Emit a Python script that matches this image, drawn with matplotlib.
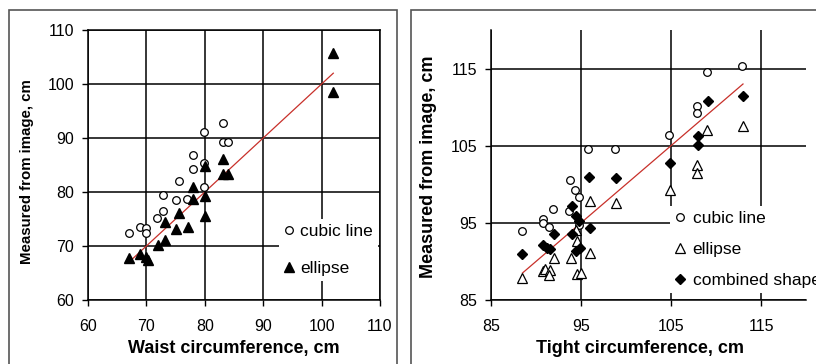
import matplotlib
matplotlib.use("Agg")
import matplotlib.pyplot as plt
from matplotlib.lines import Line2D
from matplotlib.patches import Rectangle

plt.rcParams['font.family'] = ['Liberation Sans', 'DejaVu Sans']

# ---- Left panel data (waist) ----
waist_cubic_x = [67.0, 68.9, 69.9, 69.9, 71.9, 72.9, 72.9, 75.0, 75.5, 76.9, 77.9, 77.9, 79.9, 79.9, 79.9, 83.1, 83.1, 84.0]
waist_cubic_y = [72.5, 73.6, 73.4, 72.5, 75.1, 76.4, 79.4, 78.5, 82.0, 78.7, 84.3, 86.9, 91.2, 85.4, 81.0, 92.8, 89.2, 89.2]
waist_ellipse_x = [67.1, 68.9, 69.9, 70.2, 72.0, 73.1, 73.1, 75.1, 75.6, 77.1, 77.9, 77.9, 80.0, 80.0, 80.0, 83.1, 83.1, 84.0, 102.0, 102.0]
waist_ellipse_y = [67.8, 68.5, 68.0, 67.5, 70.2, 71.2, 74.5, 73.1, 76.2, 73.6, 80.9, 78.7, 84.9, 79.3, 75.6, 86.2, 83.3, 83.3, 105.8, 98.6]
waist_fit = [67, 102]

# ---- Right panel data (tight) ----
tight_cubic_x = [88.4, 90.8, 90.8, 91.4, 91.9, 93.8, 94.3, 94.8, 93.7, 94.8, 95.8, 98.8, 104.8, 107.9, 107.9, 109.0, 112.9]
tight_cubic_y = [94.0, 95.5, 95.0, 94.5, 96.8, 100.6, 99.3, 98.3, 96.6, 94.7, 104.6, 104.6, 106.4, 110.1, 109.2, 114.6, 115.3]
tight_ellipse_x = [88.4, 90.8, 91.0, 91.5, 91.4, 92.0, 93.9, 94.4, 94.5, 94.5, 95.0, 96.0, 96.0, 98.9, 104.9, 107.9, 107.9, 109.0, 113.0]
tight_ellipse_y = [87.9, 88.8, 89.0, 88.9, 88.2, 90.4, 90.4, 94.1, 92.7, 88.4, 88.5, 91.1, 97.8, 97.6, 99.3, 102.5, 101.5, 107.1, 107.6]
tight_comb_x = [88.4, 90.8, 91.2, 91.5, 92.0, 94.0, 94.4, 94.0, 94.8, 94.4, 94.9, 96.0, 95.9, 98.9, 104.9, 108.0, 108.0, 109.1, 113.0]
tight_comb_y = [90.9, 92.1, 91.8, 91.6, 93.6, 97.2, 95.9, 93.5, 95.2, 91.4, 91.8, 94.3, 101.0, 100.8, 102.7, 106.3, 105.1, 110.8, 111.4]
tight_fit = [88.5, 113]

W, H = 816, 364
fig = plt.figure(figsize=(W / 100, H / 100), dpi=100)

def fx(px):
    return px / W

def fy(py):
    return 1 - py / H

# frames
for (x0, x1) in [(9, 397), (411, 830)]:
    fig.patches.append(Rectangle((fx(x0), fy(380)), fx(x1) - fx(x0), fy(10) - fy(380),
                                 transform=fig.transFigure, fill=False,
                                 edgecolor='#555555', linewidth=1.2))

red = '#c8302a'
tick_fs = 11.5

# ---- Left axes ----
axL = fig.add_axes([fx(88), fy(300), fx(380) - fx(88), fy(30) - fy(300)])
axL.set_xlim(60, 110)
axL.set_ylim(60, 110)
axL.set_xticks([60, 70, 80, 90, 100, 110])
axL.set_yticks([60, 70, 80, 90, 100, 110])
axL.grid(True, color='black', linewidth=1.1, zorder=0)
axL.set_axisbelow(True)
for s in axL.spines.values():
    s.set_color('black')
    s.set_linewidth(1.1)
axL.tick_params(direction='out', length=4, width=1.0, labelsize=tick_fs, colors='black')
axL.tick_params(axis='y', pad=6)
axL.tick_params(axis='x', pad=9.5)
axL.plot(waist_fit, waist_fit, color=red, linewidth=0.9, zorder=3)
axL.plot(waist_cubic_x, waist_cubic_y, linestyle='none', marker='o', markersize=5.5,
         markerfacecolor='white', markeredgecolor='black', markeredgewidth=0.9, zorder=4)
axL.plot(waist_ellipse_x, waist_ellipse_y, linestyle='none', marker='^', markersize=6.5,
         markerfacecolor='black', markeredgecolor='black', zorder=5)
axL.set_xlabel('Waist circumference, cm', fontsize=13, fontweight='bold')
axL.set_ylabel('Measured from image, cm', fontsize=10.8, fontweight='bold')
axL.xaxis.set_label_coords(0.5, (300 - 340) / 270)
axL.yaxis.set_label_coords((34 - 88) / 292, (300 - 172) / 270)
hL = [Line2D([], [], linestyle='none', marker='o', markersize=5.5, markerfacecolor='white',
             markeredgecolor='black', markeredgewidth=0.9),
      Line2D([], [], linestyle='none', marker='^', markersize=6.5, markerfacecolor='black',
             markeredgecolor='black')]
legL = axL.legend(hL, ['cubic line', 'ellipse'], loc='upper left',
                  bbox_to_anchor=(fx(279), fy(219)), bbox_transform=fig.transFigure,
                  frameon=True, facecolor='white', edgecolor='none', framealpha=1,
                  fancybox=False, fontsize=12.5, handlelength=0.6, handletextpad=0.3,
                  labelspacing=1.25, borderpad=0.3, borderaxespad=0)
legL.set_zorder(10)

# ---- Right axes ----
axR = fig.add_axes([fx(491), fy(300), fx(806) - fx(491), fy(30) - fy(300)])
axR.set_xlim(85, 120)
axR.set_ylim(85, 120)
axR.set_xticks([85, 95, 105, 115])
axR.set_yticks([85, 95, 105, 115])
axR.grid(True, color='black', linewidth=1.1, zorder=0)
axR.set_axisbelow(True)
axR.spines['top'].set_visible(False)
axR.spines['right'].set_visible(False)
for s in ['left', 'bottom']:
    axR.spines[s].set_color('black')
    axR.spines[s].set_linewidth(1.1)
axR.tick_params(direction='out', length=4, width=1.0, labelsize=tick_fs, colors='black')
axR.tick_params(axis='y', pad=6)
axR.tick_params(axis='x', pad=9.5)
axR.plot(tight_fit, tight_fit, color=red, linewidth=0.9, zorder=3)
axR.plot(tight_cubic_x, tight_cubic_y, linestyle='none', marker='o', markersize=5.5,
         markerfacecolor='white', markeredgecolor='black', markeredgewidth=0.9, zorder=4)
axR.plot(tight_ellipse_x, tight_ellipse_y, linestyle='none', marker='^', markersize=6.5,
         markerfacecolor='white', markeredgecolor='black', markeredgewidth=0.9, zorder=4)
axR.plot(tight_comb_x, tight_comb_y, linestyle='none', marker='D', markersize=5.5,
         markerfacecolor='black', markeredgecolor='black', zorder=5)
axR.set_xlabel('Tight circumference, cm', fontsize=13, fontweight='bold')
axR.set_ylabel('Measured from image, cm', fontsize=13, fontweight='bold')
axR.xaxis.set_label_coords((640 - 491) / 315, (300 - 340) / 270)
axR.yaxis.set_label_coords((437 - 491) / 315, (300 - 167) / 270)
hR = [Line2D([], [], linestyle='none', marker='o', markersize=5.5, markerfacecolor='white',
             markeredgecolor='black', markeredgewidth=0.9),
      Line2D([], [], linestyle='none', marker='^', markersize=6.5, markerfacecolor='white',
             markeredgecolor='black', markeredgewidth=0.9),
      Line2D([], [], linestyle='none', marker='D', markersize=5, markerfacecolor='black',
             markeredgecolor='black')]
legR = axR.legend(hR, ['cubic line', 'ellipse', 'combined shape'], loc='upper left',
                  bbox_to_anchor=(fx(670), fy(206)), bbox_transform=fig.transFigure,
                  frameon=True, facecolor='white', edgecolor='none', framealpha=1,
                  fancybox=False, fontsize=12.5, handlelength=0.6, handletextpad=0.4,
                  labelspacing=0.9, borderpad=0.3, borderaxespad=0)
legR.set_zorder(10)

fig.savefig('out.png', dpi=100)
